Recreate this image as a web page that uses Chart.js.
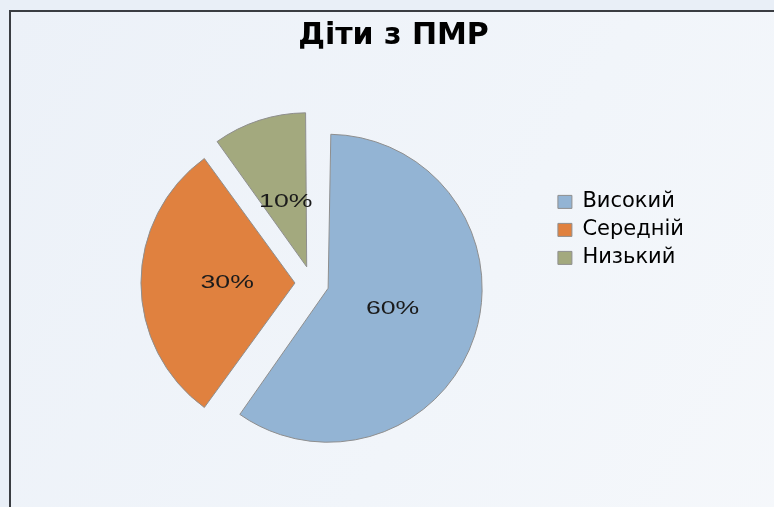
<!DOCTYPE html>
<html>
<head>
<meta charset="utf-8">
<script src="https://cdn.jsdelivr.net/npm/chart.js@4.4.1/dist/chart.umd.min.js"></script>
<style>
  html, body { margin: 0; padding: 0; background: #e9eff7; overflow: hidden; }
  #frame {
    position: absolute; left: 9px; top: 10px; width: 820px; height: 560px;
    border: 2px solid #3a3d42;
    background: linear-gradient(120deg, #ecf1f8 0%, #f1f5fa 55%, #f6f8fb 100%);
  }
  #chart { position: absolute; left: 0; top: 0; }
</style>
</head>
<body>
<div id="frame"></div>
<canvas id="chart" width="774" height="507"></canvas>
<script>
// ---------------- Chart data ---------------------------------------------
const chartTitle = 'Діти з ПМР' ;
const categories = [ 'Високий', 'Середній', 'Низький' ] ;
const shares     = [ 60, 30, 10 ] ;
const sliceColors = [ '#93b4d4', '#e0813f', '#a3a97e' ] ;

// Chart.js grows exploded arcs by offset*fix; keep every slice at the same radius,
// then write the "60%" style labels inside each slice
const sliceLabels = {
    id: 'sliceLabels',
    beforeDatasetsDraw( chart ) {
        chart.getDatasetMeta( 0 ).data.forEach( function( arc ) {
            const shift = ( arc.options.offset || 0 ) / 4 ;
            const fix = 1 - Math.sin( Math.min( Math.PI, arc.circumference ) ) ;
            arc.$baseRadius = arc.outerRadius ;
            arc.outerRadius = arc.outerRadius - shift * fix ;
        } ) ;
    },
    afterDatasetsDraw( chart ) {
        const ctx = chart.ctx ;
        chart.getDatasetMeta( 0 ).data.forEach( function( arc, i ) {
            arc.outerRadius = arc.$baseRadius ;
            const mid = ( arc.startAngle + arc.endAngle ) / 2 ;
            const shift = ( arc.options.offset || 0 ) / 4 ;
            const dist = arc.outerRadius * 0.44 + shift ;
            const x = arc.x + Math.cos( mid ) * dist ;
            const y = arc.y + Math.sin( mid ) * dist ;
            ctx.save() ;
            ctx.translate( x, y ) ;
            ctx.scale( 1.48, 1 ) ;
            ctx.font = '18px "Liberation Sans", Arial, sans-serif' ;
            ctx.fillStyle = '#1b1b1b' ;
            ctx.textAlign = 'center' ;
            ctx.textBaseline = 'middle' ;
            ctx.fillText( shares[ i ] + '%', 0, 0 ) ;
            ctx.restore() ;
        } ) ;
    }
} ;

const chart = new Chart( document.getElementById( 'chart' ), {
    type: 'pie',
    data: {
        labels: categories,
        datasets: [ {
            data: shares,
            backgroundColor: sliceColors,
            borderColor: '#8e8e8e',
            borderWidth: 1,
            offset: 68
        } ]
    },
    options: {
        responsive: false,
        animation: false,
        radius: 154,
        layout: { padding: { left: 73, right: 60, top: 18, bottom: 5 } },
        plugins: {
            title: {
                display: true,
                text: chartTitle,
                color: '#000',
                font: { family: '"DejaVu Sans", sans-serif', size: 30, weight: 'bold' },
                padding: { top: 0, bottom: 10 }
            },
            legend: {
                position: 'right',
                align: 'start',
                title: { display: true, text: '', padding: { top: 152 } },
                labels: {
                    color: '#000',
                    boxWidth: 14,
                    boxHeight: 13,
                    padding: 7,
                    font: { family: '"DejaVu Sans", sans-serif', size: 21 },
                    generateLabels( ch ) {
                        // trailing spaces widen the legend column so the title sits where the original had it
                        return Chart.overrides.pie.plugins.legend.labels.generateLabels( ch ).map( function( item ) {
                            item.text = item.text + '\u00a0\u00a0\u00a0' ;
                            return item ;
                        } ) ;
                    }
                }
            },
            tooltip: { enabled: false }
        }
    },
    plugins: [ sliceLabels ]
} ) ;
</script>
</body>
</html>
